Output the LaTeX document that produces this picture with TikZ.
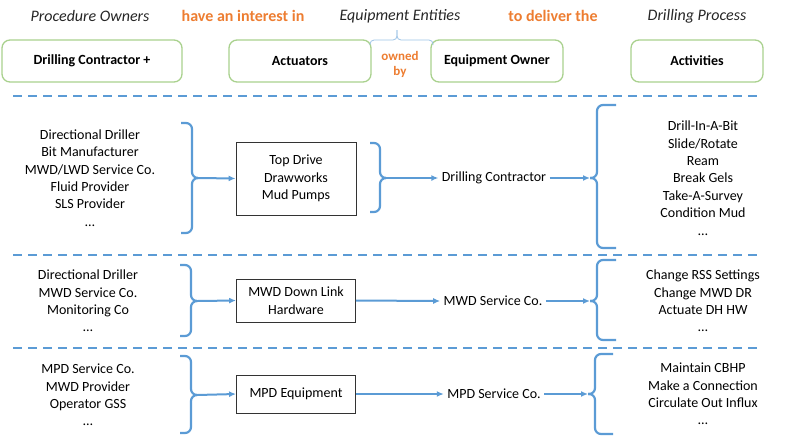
\documentclass[tikz,border=0pt]{standalone}
\usepackage{fontspec}
\setmainfont{Carlito}
\usetikzlibrary{arrows.meta, positioning}

\definecolor{lineblue}{HTML}{5B9BD5}
\definecolor{paleblue}{HTML}{9DC3E6}
\definecolor{leafgreen}{HTML}{A9D18E}
\definecolor{accorange}{HTML}{ED7D31}

\tikzset{
  header/.style={font=\fontsize{16}{19}\selectfont\itshape, text=black!85},
  linkword/.style={font=\fontsize{16}{19}\selectfont\bfseries, text=accorange},
  rolebox/.style={draw=leafgreen, line width=1.3pt, rounded corners=8pt, minimum height=42pt, font=\fontsize{14}{17}\selectfont\bfseries},
  kitbox/.style={draw=black!80, line width=0.9pt, align=center, font=\fontsize{14}{17.4}\selectfont},
  listtext/.style={align=center, font=\fontsize{14}{17.4}\selectfont},
  flow/.style={draw=lineblue, line width=2pt, -{Latex[length=7pt,width=6pt]}},
  bracket/.style={draw=lineblue, line width=2.2pt, rounded corners=6pt},
  separator/.style={draw=lineblue, line width=2pt, dash pattern=on 9pt off 6pt},
}

% curly bracket: end x, bar x, tip x, top y, tip y, bottom y, name of the tip
\newcommand{\brackat}[7]{%
  \draw[bracket] (#1,#4) -- (#2,#4) -- (#2,#5) -- (#3,#5);
  \draw[bracket] (#3,#5) -- (#2,#5) -- (#2,#6) -- (#1,#6);
  \coordinate (#7) at (#3,#5);
}

\begin{document}
\begin{tikzpicture}[x=1pt, y=-1pt]
    \useasboundingbox (0,0) rectangle (791,437);

    % top row
    \node[header] (procowners) at (90,16) {Procedure Owners};
    \node[linkword] (interest) at (243,16) {have an interest in};
    \node[header] (entities) at (400,16) {Equipment Entities};
    \node[linkword] (deliver) at (553,16) {to deliver the};
    \node[header] (process) at (697,16) {Drilling Process};

    \node[rolebox, minimum width=180pt] (contractor) at (92,61) {Drilling Contractor +};
    \node[rolebox, minimum width=142pt] (actuators) at (300,61) {Actuators};
    \node[rolebox, minimum width=132pt] (eqowner) at (497,61) {Equipment Owner};
    \node[rolebox, minimum width=132pt] (activities) at (697,61) {Activities};
    \node[linkword, font=\fontsize{13}{15}\selectfont\bfseries, align=center] (ownedby) at (400,64) {owned\\by};

    \draw[paleblue, line width=0.8pt, rounded corners=4pt] (370,45) -- (370,40) -- (397,40) -- (397,30);
    \draw[paleblue, line width=0.8pt, rounded corners=4pt] (397,30) -- (397,40) -- (433,40) -- (433,45);

    \draw[separator] (13,96) -- (757,96);
    \draw[separator] (13,255) -- (757,255);
    \draw[separator] (13,348) -- (757,348);

    % rig equipment
    \node[listtext] (owners1) at (90,178) {Directional Driller\\Bit Manufacturer\\MWD/LWD Service Co.\\Fluid Provider\\SLS Provider\\…};
    \node[kitbox, minimum width=120pt, minimum height=73pt] (kit1) at (296,178.5) {Top Drive\\Drawworks\\Mud Pumps};
    \node[listtext] (owner1) at (494,178) {Drilling Contractor};
    \node[listtext] (tasks1) at (703,178) {Drill-In-A-Bit\\Slide/Rotate\\Ream\\Break Gels\\Take-A-Survey\\Condition Mud\\…};

    \brackat{181}{192}{198}{123}{178}{233}{in1}
    \brackat{370}{380}{386}{143}{178}{212}{mid1}
    \brackat{616}{597}{590}{105}{178}{248}{out1}
    \draw[flow] (in1) -- (kit1.west);
    \draw[flow] (mid1) -- (owner1.west);
    \draw[flow] (owner1.east) -- (out1);

    % downlink
    \node[listtext] (owners2) at (88,301) {Directional Driller\\MWD Service Co.\\Monitoring Co\\…};
    \node[kitbox, minimum width=119pt, minimum height=43pt] (kit2) at (296,300.5) {MWD Down Link\\Hardware};
    \node[listtext] (owner2) at (493,301) {MWD Service Co.};
    \node[listtext] (tasks2) at (703,301) {Change RSS Settings\\Change MWD DR\\Actuate DH HW\\…};

    \brackat{180}{191}{197}{265}{301}{336}{in2}
    \brackat{616}{597}{590}{260}{301}{340}{out2}
    \draw[flow] (in2) -- (kit2.west);
    \draw[flow] (kit2.east) -- (owner2.west);
    \draw[flow] (owner2.east) -- (out2);

    % managed pressure
    \node[listtext] (owners3) at (88,395) {MPD Service Co.\\MWD Provider\\Operator GSS\\…};
    \node[kitbox, minimum width=119pt, minimum height=38pt] (kit3) at (296,394) {MPD Equipment};
    \node[listtext] (owner3) at (494,394) {MPD Service Co.};
    \node[listtext] (tasks3) at (703,394) {Maintain CBHP\\Make a Connection\\Circulate Out Influx\\…};

    \brackat{180}{191}{197}{356}{395}{433}{in3}
    \brackat{613}{595}{588}{354}{394}{434}{out3}
    \draw[flow] (in3) -- (kit3.west);
    \draw[flow] (kit3.east) -- (owner3.west);
    \draw[flow] (owner3.east) -- (out3);
\end{tikzpicture}
\end{document}
